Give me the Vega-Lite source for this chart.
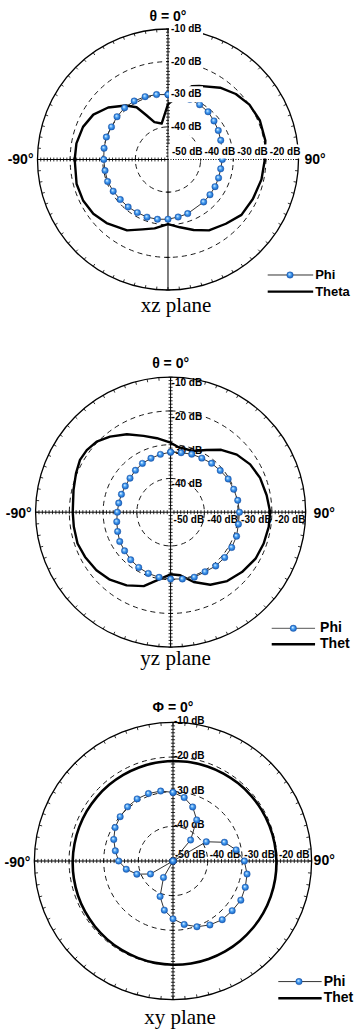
{
"$schema": "https://vega.github.io/schema/vega-lite/v6.json",
"padding": 0,
"spacing": 0,
"bounds": "flush",
"background": "white",
"config": {"view": {"stroke": null}, "axis": {"disable": true}, "font": "Liberation Sans"},
"resolve": {"scale": {"radius": "independent"}},
"datasets": {
"rings": [{"db": -40}, {"db": -30}, {"db": -20}],
"outer": [{"db": -10}],
"maj": [{"db": -40}, {"db": -30}, {"db": -20}, {"db": -10}],
"mt": [{"db":-49},{"db":-48},{"db":-47},{"db":-46},{"db":-45},{"db":-44},{"db":-43},{"db":-42},{"db":-41},{"db":-40},{"db":-39},{"db":-38},{"db":-37},{"db":-36},{"db":-35},{"db":-34},{"db":-33},{"db":-32},{"db":-31},{"db":-30},{"db":-29},{"db":-28},{"db":-27},{"db":-26},{"db":-25},{"db":-24},{"db":-23},{"db":-22},{"db":-21},{"db":-20},{"db":-19},{"db":-18},{"db":-17},{"db":-16},{"db":-15},{"db":-14},{"db":-13},{"db":-12},{"db":-11},{"db":-10}],
"ang": [{"a":0},{"a":5},{"a":10},{"a":15},{"a":20},{"a":25},{"a":30},{"a":35},{"a":40},{"a":45},{"a":50},{"a":55},{"a":60},{"a":65},{"a":70},{"a":75},{"a":80},{"a":85},{"a":90},{"a":95},{"a":100},{"a":105},{"a":110},{"a":115},{"a":120},{"a":125},{"a":130},{"a":135},{"a":140},{"a":145},{"a":150},{"a":155},{"a":160},{"a":165},{"a":170},{"a":175},{"a":180},{"a":185},{"a":190},{"a":195},{"a":200},{"a":205},{"a":210},{"a":215},{"a":220},{"a":225},{"a":230},{"a":235},{"a":240},{"a":245},{"a":250},{"a":255},{"a":260},{"a":265},{"a":270},{"a":275},{"a":280},{"a":285},{"a":290},{"a":295},{"a":300},{"a":305},{"a":310},{"a":315},{"a":320},{"a":325},{"a":330},{"a":335},{"a":340},{"a":345},{"a":350},{"a":355}],
"labv": [{"t": "-10 dB", "db": -10}, {"t": "-20 dB", "db": -20}, {"t": "-30 dB", "db": -30}, {"t": "-40 dB", "db": -40}],
"labh": [{"t": "-50 dB", "db": -50}, {"t": "-40 dB", "db": -40}, {"t": "-30 dB", "db": -30}, {"t": "-20 dB", "db": -20}],
"p1phi": [{"a":0,"db":-30.1},{"a":10,"db":-30.2},{"a":20,"db":-30.4},{"a":30,"db":-30.6},{"a":40,"db":-30.9},{"a":50,"db":-31.6},{"a":60,"db":-32.2},{"a":70,"db":-32.8},{"a":80,"db":-33.2},{"a":90,"db":-33.35},{"a":100,"db":-33.6},{"a":110,"db":-33.5},{"a":120,"db":-33.35},{"a":130,"db":-33.2},{"a":140,"db":-33.0},{"a":160,"db":-32.35},{"a":170,"db":-32.1},{"a":180,"db":-31.7},{"a":190,"db":-31.4},{"a":200,"db":-31.2},{"a":210,"db":-31.2},{"a":220,"db":-31.0},{"a":230,"db":-30.9},{"a":240,"db":-30.6},{"a":250,"db":-30.3},{"a":260,"db":-30.4},{"a":270,"db":-30.3},{"a":280,"db":-30.1},{"a":290,"db":-29.9},{"a":300,"db":-30.0},{"a":310,"db":-29.6},{"a":320,"db":-29.3},{"a":330,"db":-29.3},{"a":340,"db":-29.5},{"a":350,"db":-29.8},{"a":360,"db":-30.1}],
"p1theta": [{"a":0,"db":-33.0},{"a":18,"db":-26.4},{"a":23,"db":-25.5},{"a":36,"db":-22.8},{"a":46,"db":-21.1},{"a":56,"db":-19.9},{"a":67,"db":-19.4},{"a":79,"db":-19.6},{"a":91,"db":-20.4},{"a":102,"db":-20.7},{"a":115,"db":-21.3},{"a":127,"db":-21.8},{"a":138,"db":-23.5},{"a":150,"db":-24.9},{"a":160,"db":-27.0},{"a":170,"db":-28.9},{"a":180,"db":-30.2},{"a":191,"db":-28.5},{"a":200,"db":-27.2},{"a":210,"db":-24.9},{"a":224,"db":-22.9},{"a":234,"db":-21.7},{"a":244,"db":-21.1},{"a":255,"db":-21.0},{"a":270,"db":-21.4},{"a":280,"db":-21.5},{"a":291,"db":-22.1},{"a":301,"db":-23.3},{"a":311,"db":-25.7},{"a":322,"db":-29.0},{"a":329,"db":-31.3},{"a":334,"db":-34.9},{"a":340,"db":-37.8},{"a":350,"db":-38.8},{"a":360,"db":-33.0}],
"p2phi": [{"a":0,"db":-32.2},{"a":10,"db":-32.1},{"a":20,"db":-31.7},{"a":30,"db":-31.5},{"a":40,"db":-31.1},{"a":50,"db":-30.8},{"a":60,"db":-30.3},{"a":70,"db":-30.1},{"a":80,"db":-29.8},{"a":90,"db":-29.6},{"a":100,"db":-29.6},{"a":110,"db":-29.2},{"a":120,"db":-29.1},{"a":130,"db":-29.1},{"a":140,"db":-29.2},{"a":150,"db":-29.6},{"a":160,"db":-29.5},{"a":170,"db":-29.9},{"a":180,"db":-30.2},{"a":190,"db":-30.4},{"a":200,"db":-30.7},{"a":210,"db":-31.1},{"a":220,"db":-31.6},{"a":230,"db":-32.2},{"a":240,"db":-32.6},{"a":250,"db":-33.3},{"a":260,"db":-33.8},{"a":270,"db":-34.2},{"a":280,"db":-34.4},{"a":290,"db":-34.5},{"a":300,"db":-34.5},{"a":310,"db":-34.3},{"a":320,"db":-33.8},{"a":330,"db":-33.3},{"a":340,"db":-33.0},{"a":350,"db":-32.6},{"a":360,"db":-32.2}],
"p2theta": [{"a":0,"db":-29.4},{"a":7,"db":-30.6},{"a":20,"db":-30.7},{"a":30,"db":-28.7},{"a":39,"db":-26.2},{"a":49,"db":-24.0},{"a":59,"db":-22.5},{"a":69,"db":-21.6},{"a":80,"db":-21.1},{"a":90,"db":-20.5},{"a":98.5,"db":-20.6},{"a":108.6,"db":-20.9},{"a":118.7,"db":-21.3},{"a":130,"db":-22.4},{"a":140.6,"db":-23.6},{"a":151.3,"db":-25.5},{"a":161.7,"db":-28.2},{"a":171.3,"db":-31.1},{"a":180,"db":-31.6},{"a":191.4,"db":-29.4},{"a":200,"db":-26.7},{"a":211,"db":-24.7},{"a":222,"db":-23.1},{"a":232,"db":-22.1},{"a":242.4,"db":-21.4},{"a":251.4,"db":-20.9},{"a":261.4,"db":-21.0},{"a":270,"db":-21.0},{"a":282.8,"db":-20.5},{"a":292.3,"db":-19.7},{"a":300,"db":-19.0},{"a":306.5,"db":-19.1},{"a":313.7,"db":-19.7},{"a":321.3,"db":-21.3},{"a":330.7,"db":-23.5},{"a":340.5,"db":-26.0},{"a":349.5,"db":-27.7},{"a":360,"db":-29.4}],
"p3phi": [{"a":0,"db":-30.2},{"a":10,"db":-31.4},{"a":20,"db":-33.4},{"a":30,"db":-36.3},{"a":40,"db":-42.1},{"a":50,"db":-50},{"a":60,"db":-38.9},{"a":70,"db":-34.2},{"a":80,"db":-31.5},{"a":90,"db":-29.4},{"a":100,"db":-28.3},{"a":110,"db":-27.8},{"a":120,"db":-27.4},{"a":130,"db":-27.7},{"a":140,"db":-27.9},{"a":150,"db":-28.7},{"a":160,"db":-29.8},{"a":170,"db":-31.4},{"a":180,"db":-33.3},{"a":190,"db":-35.6},{"a":200,"db":-39.1},{"a":210,"db":-44.5},{"a":220,"db":-50},{"a":230,"db":-50},{"a":240,"db":-42.5},{"a":250,"db":-38.9},{"a":260,"db":-36.3},{"a":270,"db":-34.3},{"a":280,"db":-33.1},{"a":290,"db":-31.8},{"a":300,"db":-30.7},{"a":310,"db":-30.1},{"a":320,"db":-29.6},{"a":330,"db":-29.3},{"a":340,"db":-29.3},{"a":350,"db":-29.5},{"a":360,"db":-30.2}],
"p3theta": [{"a":0,"db":-21.15},{"a":10,"db":-21.06},{"a":20,"db":-20.96},{"a":30,"db":-20.85},{"a":40,"db":-20.73},{"a":50,"db":-20.61},{"a":60,"db":-20.49},{"a":70,"db":-20.37},{"a":80,"db":-20.25},{"a":90,"db":-20.15},{"a":100,"db":-20.06},{"a":110,"db":-19.99},{"a":120,"db":-19.93},{"a":130,"db":-19.9},{"a":140,"db":-19.89},{"a":150,"db":-19.9},{"a":160,"db":-19.93},{"a":170,"db":-19.98},{"a":180,"db":-20.05},{"a":190,"db":-20.14},{"a":200,"db":-20.24},{"a":210,"db":-20.35},{"a":220,"db":-20.47},{"a":230,"db":-20.59},{"a":240,"db":-20.71},{"a":250,"db":-20.83},{"a":260,"db":-20.95},{"a":270,"db":-21.05},{"a":280,"db":-21.14},{"a":290,"db":-21.21},{"a":300,"db":-21.26},{"a":310,"db":-21.3},{"a":320,"db":-21.31},{"a":330,"db":-21.3},{"a":340,"db":-21.27},{"a":350,"db":-21.22},{"a":360,"db":-21.15}]
},
"vconcat": [
{
"width": 356, "height": 343,
"layer": [
{"data": {"name": "rings"}, "mark": {"type": "arc", "theta": 0, "theta2": 6.2832, "filled": false, "stroke": "black", "strokeWidth": 0.9, "strokeDash": [5, 4]},
 "encoding": {"x": {"datum": 0, "type": "quantitative", "scale": {"domain": [-51.494, 57.625]}}, "y": {"datum": 0, "type": "quantitative", "scale": {"domain": [-56.245, 48.889]}}, "radius": {"field": "db", "type": "quantitative", "scale": {"type": "linear", "domain": [-50, -10], "range": [0, 130.5]}}, "radius2": {"datum": -50}}},
{"data": {"name": "outer"}, "mark": {"type": "arc", "theta": 0, "theta2": 6.2832, "filled": false, "stroke": "black", "strokeWidth": 1.3},
 "encoding": {"x": {"datum": 0, "type": "quantitative", "scale": {"domain": [-51.494, 57.625]}}, "y": {"datum": 0, "type": "quantitative", "scale": {"domain": [-56.245, 48.889]}}, "radius": {"field": "db", "type": "quantitative", "scale": {"type": "linear", "domain": [-50, -10], "range": [0, 130.5]}}, "radius2": {"datum": -50}}},
{"data": {"name": "ang"}, "transform": [{"calculate": "40*sin(datum.a*PI/180)", "as": "x"}, {"calculate": "40*cos(datum.a*PI/180)", "as": "y"}, {"calculate": "39.1*sin(datum.a*PI/180)", "as": "x2"}, {"calculate": "39.1*cos(datum.a*PI/180)", "as": "y2"}],
 "mark": {"type": "rule", "color": "black", "strokeWidth": 0.8},
 "encoding": {"x": {"field": "x", "type": "quantitative", "scale": {"domain": [-51.494, 57.625]}}, "y": {"field": "y", "type": "quantitative", "scale": {"domain": [-56.245, 48.889]}}, "x2": {"field": "x2"}, "y2": {"field": "y2"}}},
{"data": {"name": "outer"}, "mark": {"type": "rule", "color": "black", "strokeWidth": 1},
 "encoding": {"x": {"datum": 0, "type": "quantitative", "scale": {"domain": [-51.494, 57.625]}}, "y": {"datum": -40, "type": "quantitative", "scale": {"domain": [-56.245, 48.889]}}, "y2": {"datum": 40}}},
{"data": {"name": "outer"}, "mark": {"type": "rule", "color": "black", "strokeWidth": 1},
 "encoding": {"x": {"datum": -40, "type": "quantitative", "scale": {"domain": [-51.494, 57.625]}}, "x2": {"datum": 0}, "y": {"datum": 0, "type": "quantitative", "scale": {"domain": [-56.245, 48.889]}}}},
{"data": {"name": "outer"}, "mark": {"type": "rule", "color": "black", "strokeWidth": 1, "strokeDash": [1, 1.5]},
 "encoding": {"x": {"datum": 0, "type": "quantitative", "scale": {"domain": [-51.494, 57.625]}}, "x2": {"datum": 40}, "y": {"datum": 0, "type": "quantitative", "scale": {"domain": [-56.245, 48.889]}}}},
{"data": {"name": "mt"}, "transform": [{"calculate": "datum.db+50", "as": "u"}], "mark": {"type": "rule", "color": "black", "strokeWidth": 0.8},
 "encoding": {"x": {"datum": -0.6, "type": "quantitative", "scale": {"domain": [-51.494, 57.625]}}, "x2": {"datum": 0.6}, "y": {"field": "u", "type": "quantitative", "scale": {"domain": [-56.245, 48.889]}}}},
{"data": {"name": "mt"}, "transform": [{"calculate": "-(datum.db+50)", "as": "u"}], "mark": {"type": "rule", "color": "black", "strokeWidth": 0.8},
 "encoding": {"y": {"datum": -0.6, "type": "quantitative", "scale": {"domain": [-56.245, 48.889]}}, "y2": {"datum": 0.6}, "x": {"field": "u", "type": "quantitative", "scale": {"domain": [-51.494, 57.625]}}}},
{"data": {"name": "maj"}, "transform": [{"calculate": "-(datum.db+50)", "as": "u"}], "mark": {"type": "rule", "color": "black", "strokeWidth": 0.8},
 "encoding": {"x": {"datum": -0.7, "type": "quantitative", "scale": {"domain": [-51.494, 57.625]}}, "x2": {"datum": 0.7}, "y": {"field": "u", "type": "quantitative", "scale": {"domain": [-56.245, 48.889]}}}},
{"data": {"name": "maj"}, "transform": [{"calculate": "datum.db+50", "as": "u"}], "mark": {"type": "rule", "color": "black", "strokeWidth": 0.8},
 "encoding": {"y": {"datum": -0.7, "type": "quantitative", "scale": {"domain": [-56.245, 48.889]}}, "y2": {"datum": 0.7}, "x": {"field": "u", "type": "quantitative", "scale": {"domain": [-51.494, 57.625]}}}},
{"data": {"name": "p1theta"}, "transform": [{"calculate": "(datum.db+50)*sin(datum.a*PI/180)", "as": "x"}, {"calculate": "(datum.db+50)*cos(datum.a*PI/180)", "as": "y"}],
 "mark": {"type": "line", "color": "black", "strokeWidth": 2.4, "strokeJoin": "round"},
 "encoding": {"x": {"field": "x", "type": "quantitative", "scale": {"domain": [-51.494, 57.625]}}, "y": {"field": "y", "type": "quantitative", "scale": {"domain": [-56.245, 48.889]}}, "order": {"field": "a", "type": "quantitative"}}},
{"data": {"name": "p1phi"}, "transform": [{"calculate": "(datum.db+50)*sin(datum.a*PI/180)", "as": "x"}, {"calculate": "(datum.db+50)*cos(datum.a*PI/180)", "as": "y"}],
 "mark": {"type": "line", "color": "#333333", "strokeWidth": 1},
 "encoding": {"x": {"field": "x", "type": "quantitative", "scale": {"domain": [-51.494, 57.625]}}, "y": {"field": "y", "type": "quantitative", "scale": {"domain": [-56.245, 48.889]}}, "order": {"field": "a", "type": "quantitative"}}},
{"data": {"name": "p1phi"}, "transform": [{"calculate": "(datum.db+50)*sin(datum.a*PI/180)", "as": "x"}, {"calculate": "(datum.db+50)*cos(datum.a*PI/180)", "as": "y"}],
 "mark": {"type": "point", "filled": true, "size": 42, "opacity": 1, "stroke": "#1c4f9c", "strokeWidth": 0.4, "fill": {"gradient": "radial", "x1": 0.38, "y1": 0.33, "r1": 0, "x2": 0.5, "y2": 0.5, "r2": 0.5, "stops": [{"offset": 0, "color": "#ffffff"}, {"offset": 0.2, "color": "#aad8ff"}, {"offset": 0.5, "color": "#449cf0"}, {"offset": 1, "color": "#1560c0"}]}},
 "encoding": {"x": {"field": "x", "type": "quantitative", "scale": {"domain": [-51.494, 57.625]}}, "y": {"field": "y", "type": "quantitative", "scale": {"domain": [-56.245, 48.889]}}}},
{"data": {"name": "labv"}, "transform": [{"calculate": "datum.db+50", "as": "u"}], "mark": {"type": "point", "shape": "M0.1,-0.8H3.5V0.8H0.1Z", "size": 400, "filled": true, "color": "white", "opacity": 1, "strokeWidth": 0},
 "encoding": {"x": {"datum": 0, "type": "quantitative", "scale": {"domain": [-51.494, 57.625]}}, "y": {"field": "u", "type": "quantitative", "scale": {"domain": [-56.245, 48.889]}}}},
{"data": {"name": "labh"}, "transform": [{"calculate": "datum.db+50", "as": "u"}], "mark": {"type": "point", "shape": "M0.05,-1.5H3.5V-0.1H0.05Z", "size": 400, "filled": true, "color": "white", "opacity": 1, "strokeWidth": 0},
 "encoding": {"x": {"field": "u", "type": "quantitative", "scale": {"domain": [-51.494, 57.625]}}, "y": {"datum": 0, "type": "quantitative", "scale": {"domain": [-56.245, 48.889]}}}},
{"data": {"name": "labv"}, "transform": [{"calculate": "datum.db+50", "as": "u"}], "mark": {"type": "text", "align": "left", "baseline": "middle", "dx": 3, "fontSize": 10, "fontWeight": "bold", "color": "black"},
 "encoding": {"x": {"datum": 0, "type": "quantitative", "scale": {"domain": [-51.494, 57.625]}}, "y": {"field": "u", "type": "quantitative", "scale": {"domain": [-56.245, 48.889]}}, "text": {"field": "t"}}},
{"data": {"name": "labh"}, "transform": [{"calculate": "datum.db+50", "as": "u"}], "mark": {"type": "text", "align": "left", "baseline": "middle", "dx": 4, "dy": -8, "fontSize": 10, "fontWeight": "bold", "color": "black"},
 "encoding": {"x": {"field": "u", "type": "quantitative", "scale": {"domain": [-51.494, 57.625]}}, "y": {"datum": 0, "type": "quantitative", "scale": {"domain": [-56.245, 48.889]}}, "text": {"field": "t"}}},
{"data": {"name": "outer"}, "mark": {"type": "text", "text": "θ = 0°", "align": "center", "baseline": "middle", "dy": -12, "fontSize": 14, "fontWeight": "bold", "color": "black"},
 "encoding": {"x": {"datum": 0, "type": "quantitative", "scale": {"domain": [-51.494, 57.625]}}, "y": {"datum": 40, "type": "quantitative", "scale": {"domain": [-56.245, 48.889]}}}},
{"data": {"name": "outer"}, "mark": {"type": "text", "text": "-90°", "align": "right", "baseline": "middle", "dx": -4, "fontSize": 14, "fontWeight": "bold", "color": "black"},
 "encoding": {"x": {"datum": -40, "type": "quantitative", "scale": {"domain": [-51.494, 57.625]}}, "y": {"datum": 0, "type": "quantitative", "scale": {"domain": [-56.245, 48.889]}}}},
{"data": {"name": "outer"}, "mark": {"type": "text", "text": "90°", "align": "left", "baseline": "middle", "dx": 6, "fontSize": 14, "fontWeight": "bold", "color": "black"},
 "encoding": {"x": {"datum": 40, "type": "quantitative", "scale": {"domain": [-51.494, 57.625]}}, "y": {"datum": 0, "type": "quantitative", "scale": {"domain": [-56.245, 48.889]}}}},
{"data": {"name": "outer"}, "mark": {"type": "text", "text": "xz plane", "align": "center", "baseline": "middle", "dx": 8, "dy": 16, "font": "Liberation Serif", "fontSize": 21, "color": "black"},
 "encoding": {"x": {"datum": 0, "type": "quantitative", "scale": {"domain": [-51.494, 57.625]}}, "y": {"datum": -40, "type": "quantitative", "scale": {"domain": [-56.245, 48.889]}}}},
{"data": {"name": "outer"}, "mark": {"type": "rule", "color": "#333333", "strokeWidth": 1},
 "encoding": {"x": {"datum": 30.56, "type": "quantitative", "scale": {"domain": [-51.494, 57.625]}}, "x2": {"datum": 44.5}, "y": {"datum": -35.4, "type": "quantitative", "scale": {"domain": [-56.245, 48.889]}}}},
{"data": {"name": "outer"}, "mark": {"type": "point", "filled": true, "size": 42, "opacity": 1, "stroke": "#1c4f9c", "strokeWidth": 0.4, "fill": {"gradient": "radial", "x1": 0.38, "y1": 0.33, "r1": 0, "x2": 0.5, "y2": 0.5, "r2": 0.5, "stops": [{"offset": 0, "color": "#ffffff"}, {"offset": 0.2, "color": "#aad8ff"}, {"offset": 0.5, "color": "#449cf0"}, {"offset": 1, "color": "#1560c0"}]}},
 "encoding": {"x": {"datum": 37.4, "type": "quantitative", "scale": {"domain": [-51.494, 57.625]}}, "y": {"datum": -35.4, "type": "quantitative", "scale": {"domain": [-56.245, 48.889]}}}},
{"data": {"name": "outer"}, "mark": {"type": "text", "text": "Phi", "align": "left", "baseline": "middle", "dx": 2, "fontSize": 13, "fontWeight": "bold", "color": "black"},
 "encoding": {"x": {"datum": 44.5, "type": "quantitative", "scale": {"domain": [-51.494, 57.625]}}, "y": {"datum": -35.4, "type": "quantitative", "scale": {"domain": [-56.245, 48.889]}}}},
{"data": {"name": "outer"}, "mark": {"type": "rule", "color": "black", "strokeWidth": 2.4},
 "encoding": {"x": {"datum": 30.56, "type": "quantitative", "scale": {"domain": [-51.494, 57.625]}}, "x2": {"datum": 44.5}, "y": {"datum": -40.5, "type": "quantitative", "scale": {"domain": [-56.245, 48.889]}}}},
{"data": {"name": "outer"}, "mark": {"type": "text", "text": "Theta", "align": "left", "baseline": "middle", "dx": 2, "fontSize": 13, "fontWeight": "bold", "color": "black"},
 "encoding": {"x": {"datum": 44.5, "type": "quantitative", "scale": {"domain": [-51.494, 57.625]}}, "y": {"datum": -40.5, "type": "quantitative", "scale": {"domain": [-56.245, 48.889]}}}}
]
},
{
"width": 356, "height": 343,
"layer": [
{"data": {"name": "rings"}, "mark": {"type": "arc", "theta": 0, "theta2": 6.2832, "filled": false, "stroke": "black", "strokeWidth": 0.9, "strokeDash": [5, 4]},
 "encoding": {"x": {"datum": 0, "type": "quantitative", "scale": {"domain": [-50.548, 54.933]}}, "y": {"datum": 0, "type": "quantitative", "scale": {"domain": [-51.496, 50.133]}}, "radius": {"field": "db", "type": "quantitative", "scale": {"type": "linear", "domain": [-50, -10], "range": [0, 135]}}, "radius2": {"datum": -50}}},
{"data": {"name": "outer"}, "mark": {"type": "arc", "theta": 0, "theta2": 6.2832, "filled": false, "stroke": "black", "strokeWidth": 1.3},
 "encoding": {"x": {"datum": 0, "type": "quantitative", "scale": {"domain": [-50.548, 54.933]}}, "y": {"datum": 0, "type": "quantitative", "scale": {"domain": [-51.496, 50.133]}}, "radius": {"field": "db", "type": "quantitative", "scale": {"type": "linear", "domain": [-50, -10], "range": [0, 135]}}, "radius2": {"datum": -50}}},
{"data": {"name": "ang"}, "transform": [{"calculate": "40*sin(datum.a*PI/180)", "as": "x"}, {"calculate": "40*cos(datum.a*PI/180)", "as": "y"}, {"calculate": "39.1*sin(datum.a*PI/180)", "as": "x2"}, {"calculate": "39.1*cos(datum.a*PI/180)", "as": "y2"}],
 "mark": {"type": "rule", "color": "black", "strokeWidth": 0.8},
 "encoding": {"x": {"field": "x", "type": "quantitative", "scale": {"domain": [-50.548, 54.933]}}, "y": {"field": "y", "type": "quantitative", "scale": {"domain": [-51.496, 50.133]}}, "x2": {"field": "x2"}, "y2": {"field": "y2"}}},
{"data": {"name": "outer"}, "mark": {"type": "rule", "color": "black", "strokeWidth": 1},
 "encoding": {"x": {"datum": 0, "type": "quantitative", "scale": {"domain": [-50.548, 54.933]}}, "y": {"datum": -40, "type": "quantitative", "scale": {"domain": [-51.496, 50.133]}}, "y2": {"datum": 40}}},
{"data": {"name": "outer"}, "mark": {"type": "rule", "color": "black", "strokeWidth": 1},
 "encoding": {"x": {"datum": -40, "type": "quantitative", "scale": {"domain": [-50.548, 54.933]}}, "x2": {"datum": 40}, "y": {"datum": 0, "type": "quantitative", "scale": {"domain": [-51.496, 50.133]}}}},
{"data": {"name": "mt"}, "transform": [{"calculate": "datum.db+50", "as": "u"}], "mark": {"type": "rule", "color": "black", "strokeWidth": 0.8},
 "encoding": {"x": {"datum": -0.6, "type": "quantitative", "scale": {"domain": [-50.548, 54.933]}}, "x2": {"datum": 0.6}, "y": {"field": "u", "type": "quantitative", "scale": {"domain": [-51.496, 50.133]}}}},
{"data": {"name": "mt"}, "transform": [{"calculate": "-(datum.db+50)", "as": "u"}], "mark": {"type": "rule", "color": "black", "strokeWidth": 0.8},
 "encoding": {"x": {"datum": -0.6, "type": "quantitative", "scale": {"domain": [-50.548, 54.933]}}, "x2": {"datum": 0.6}, "y": {"field": "u", "type": "quantitative", "scale": {"domain": [-51.496, 50.133]}}}},
{"data": {"name": "mt"}, "transform": [{"calculate": "datum.db+50", "as": "u"}], "mark": {"type": "rule", "color": "black", "strokeWidth": 0.8},
 "encoding": {"y": {"datum": -0.6, "type": "quantitative", "scale": {"domain": [-51.496, 50.133]}}, "y2": {"datum": 0.6}, "x": {"field": "u", "type": "quantitative", "scale": {"domain": [-50.548, 54.933]}}}},
{"data": {"name": "mt"}, "transform": [{"calculate": "-(datum.db+50)", "as": "u"}], "mark": {"type": "rule", "color": "black", "strokeWidth": 0.8},
 "encoding": {"y": {"datum": -0.6, "type": "quantitative", "scale": {"domain": [-51.496, 50.133]}}, "y2": {"datum": 0.6}, "x": {"field": "u", "type": "quantitative", "scale": {"domain": [-50.548, 54.933]}}}},
{"data": {"name": "labv"}, "transform": [{"calculate": "datum.db+50", "as": "u"}], "mark": {"type": "text", "align": "left", "baseline": "middle", "dx": 1, "dy": 6, "fontSize": 10, "fontWeight": "bold", "color": "black"},
 "encoding": {"x": {"datum": 0, "type": "quantitative", "scale": {"domain": [-50.548, 54.933]}}, "y": {"field": "u", "type": "quantitative", "scale": {"domain": [-51.496, 50.133]}}, "text": {"field": "t"}}},
{"data": {"name": "labh"}, "transform": [{"calculate": "datum.db+50", "as": "u"}], "mark": {"type": "text", "align": "left", "baseline": "middle", "dx": 3, "dy": 8, "fontSize": 10, "fontWeight": "bold", "color": "black"},
 "encoding": {"x": {"field": "u", "type": "quantitative", "scale": {"domain": [-50.548, 54.933]}}, "y": {"datum": 0, "type": "quantitative", "scale": {"domain": [-51.496, 50.133]}}, "text": {"field": "t"}}},
{"data": {"name": "p2theta"}, "transform": [{"calculate": "(datum.db+50)*sin(datum.a*PI/180)", "as": "x"}, {"calculate": "(datum.db+50)*cos(datum.a*PI/180)", "as": "y"}],
 "mark": {"type": "line", "color": "black", "strokeWidth": 2.4, "strokeJoin": "round"},
 "encoding": {"x": {"field": "x", "type": "quantitative", "scale": {"domain": [-50.548, 54.933]}}, "y": {"field": "y", "type": "quantitative", "scale": {"domain": [-51.496, 50.133]}}, "order": {"field": "a", "type": "quantitative"}}},
{"data": {"name": "p2phi"}, "transform": [{"calculate": "(datum.db+50)*sin(datum.a*PI/180)", "as": "x"}, {"calculate": "(datum.db+50)*cos(datum.a*PI/180)", "as": "y"}],
 "mark": {"type": "line", "color": "#333333", "strokeWidth": 1},
 "encoding": {"x": {"field": "x", "type": "quantitative", "scale": {"domain": [-50.548, 54.933]}}, "y": {"field": "y", "type": "quantitative", "scale": {"domain": [-51.496, 50.133]}}, "order": {"field": "a", "type": "quantitative"}}},
{"data": {"name": "p2phi"}, "transform": [{"calculate": "(datum.db+50)*sin(datum.a*PI/180)", "as": "x"}, {"calculate": "(datum.db+50)*cos(datum.a*PI/180)", "as": "y"}],
 "mark": {"type": "point", "filled": true, "size": 42, "opacity": 1, "stroke": "#1c4f9c", "strokeWidth": 0.4, "fill": {"gradient": "radial", "x1": 0.38, "y1": 0.33, "r1": 0, "x2": 0.5, "y2": 0.5, "r2": 0.5, "stops": [{"offset": 0, "color": "#ffffff"}, {"offset": 0.2, "color": "#aad8ff"}, {"offset": 0.5, "color": "#449cf0"}, {"offset": 1, "color": "#1560c0"}]}},
 "encoding": {"x": {"field": "x", "type": "quantitative", "scale": {"domain": [-50.548, 54.933]}}, "y": {"field": "y", "type": "quantitative", "scale": {"domain": [-51.496, 50.133]}}}},
{"data": {"name": "outer"}, "mark": {"type": "text", "text": "θ = 0°", "align": "center", "baseline": "middle", "dy": -13, "fontSize": 14, "fontWeight": "bold", "color": "black"},
 "encoding": {"x": {"datum": 0, "type": "quantitative", "scale": {"domain": [-50.548, 54.933]}}, "y": {"datum": 40, "type": "quantitative", "scale": {"domain": [-51.496, 50.133]}}}},
{"data": {"name": "outer"}, "mark": {"type": "text", "text": "-90°", "align": "right", "baseline": "middle", "dx": -4, "dy": 2, "fontSize": 14, "fontWeight": "bold", "color": "black"},
 "encoding": {"x": {"datum": -40, "type": "quantitative", "scale": {"domain": [-50.548, 54.933]}}, "y": {"datum": 0, "type": "quantitative", "scale": {"domain": [-51.496, 50.133]}}}},
{"data": {"name": "outer"}, "mark": {"type": "text", "text": "90°", "align": "left", "baseline": "middle", "dx": 8, "dy": 2, "fontSize": 14, "fontWeight": "bold", "color": "black"},
 "encoding": {"x": {"datum": 40, "type": "quantitative", "scale": {"domain": [-50.548, 54.933]}}, "y": {"datum": 0, "type": "quantitative", "scale": {"domain": [-51.496, 50.133]}}}},
{"data": {"name": "outer"}, "mark": {"type": "text", "text": "yz plane", "align": "center", "baseline": "middle", "dx": 5, "dy": 12, "font": "Liberation Serif", "fontSize": 21, "color": "black"},
 "encoding": {"x": {"datum": 0, "type": "quantitative", "scale": {"domain": [-50.548, 54.933]}}, "y": {"datum": -40, "type": "quantitative", "scale": {"domain": [-51.496, 50.133]}}}},
{"data": {"name": "outer"}, "mark": {"type": "rule", "color": "#555555", "strokeWidth": 1},
 "encoding": {"x": {"datum": 29.96, "type": "quantitative", "scale": {"domain": [-50.548, 54.933]}}, "x2": {"datum": 42.8}, "y": {"datum": -34.4, "type": "quantitative", "scale": {"domain": [-51.496, 50.133]}}}},
{"data": {"name": "outer"}, "mark": {"type": "point", "filled": true, "size": 42, "opacity": 1, "stroke": "#1c4f9c", "strokeWidth": 0.4, "fill": {"gradient": "radial", "x1": 0.38, "y1": 0.33, "r1": 0, "x2": 0.5, "y2": 0.5, "r2": 0.5, "stops": [{"offset": 0, "color": "#ffffff"}, {"offset": 0.2, "color": "#aad8ff"}, {"offset": 0.5, "color": "#449cf0"}, {"offset": 1, "color": "#1560c0"}]}},
 "encoding": {"x": {"datum": 36.36, "type": "quantitative", "scale": {"domain": [-50.548, 54.933]}}, "y": {"datum": -34.4, "type": "quantitative", "scale": {"domain": [-51.496, 50.133]}}}},
{"data": {"name": "outer"}, "mark": {"type": "text", "text": "Phi", "align": "left", "baseline": "middle", "dx": 5, "fontSize": 14, "fontWeight": "bold", "color": "black"},
 "encoding": {"x": {"datum": 42.8, "type": "quantitative", "scale": {"domain": [-50.548, 54.933]}}, "y": {"datum": -34.4, "type": "quantitative", "scale": {"domain": [-51.496, 50.133]}}}},
{"data": {"name": "outer"}, "mark": {"type": "rule", "color": "black", "strokeWidth": 2.4},
 "encoding": {"x": {"datum": 29.96, "type": "quantitative", "scale": {"domain": [-50.548, 54.933]}}, "x2": {"datum": 42.8}, "y": {"datum": -39.14, "type": "quantitative", "scale": {"domain": [-51.496, 50.133]}}}},
{"data": {"name": "outer"}, "mark": {"type": "text", "text": "Theta", "align": "left", "baseline": "middle", "dx": 5, "fontSize": 14, "fontWeight": "bold", "color": "black", "limit": 35, "ellipsis": "\u200b"},
 "encoding": {"x": {"datum": 42.8, "type": "quantitative", "scale": {"domain": [-50.548, 54.933]}}, "y": {"datum": -39.14, "type": "quantitative", "scale": {"domain": [-51.496, 50.133]}}}}
]
},
{
"width": 356, "height": 344,
"layer": [
{"data": {"name": "rings"}, "mark": {"type": "arc", "theta": 0, "theta2": 6.2832, "filled": false, "stroke": "black", "strokeWidth": 0.9, "strokeDash": [5, 4]},
 "encoding": {"x": {"datum": 0, "type": "quantitative", "scale": {"domain": [-49.928, 52.814]}}, "y": {"datum": 0, "type": "quantitative", "scale": {"domain": [-48.773, 50.505]}}, "radius": {"field": "db", "type": "quantitative", "scale": {"type": "linear", "domain": [-50, -10], "range": [0, 138.6]}}, "radius2": {"datum": -50}}},
{"data": {"name": "outer"}, "mark": {"type": "arc", "theta": 0, "theta2": 6.2832, "filled": false, "stroke": "black", "strokeWidth": 1.3},
 "encoding": {"x": {"datum": 0, "type": "quantitative", "scale": {"domain": [-49.928, 52.814]}}, "y": {"datum": 0, "type": "quantitative", "scale": {"domain": [-48.773, 50.505]}}, "radius": {"field": "db", "type": "quantitative", "scale": {"type": "linear", "domain": [-50, -10], "range": [0, 138.6]}}, "radius2": {"datum": -50}}},
{"data": {"name": "ang"}, "transform": [{"calculate": "40*sin(datum.a*PI/180)", "as": "x"}, {"calculate": "40*cos(datum.a*PI/180)", "as": "y"}, {"calculate": "39.1*sin(datum.a*PI/180)", "as": "x2"}, {"calculate": "39.1*cos(datum.a*PI/180)", "as": "y2"}],
 "mark": {"type": "rule", "color": "black", "strokeWidth": 0.8},
 "encoding": {"x": {"field": "x", "type": "quantitative", "scale": {"domain": [-49.928, 52.814]}}, "y": {"field": "y", "type": "quantitative", "scale": {"domain": [-48.773, 50.505]}}, "x2": {"field": "x2"}, "y2": {"field": "y2"}}},
{"data": {"name": "outer"}, "mark": {"type": "rule", "color": "black", "strokeWidth": 1},
 "encoding": {"x": {"datum": 0, "type": "quantitative", "scale": {"domain": [-49.928, 52.814]}}, "y": {"datum": -40, "type": "quantitative", "scale": {"domain": [-48.773, 50.505]}}, "y2": {"datum": 40}}},
{"data": {"name": "outer"}, "mark": {"type": "rule", "color": "black", "strokeWidth": 1},
 "encoding": {"x": {"datum": -40, "type": "quantitative", "scale": {"domain": [-49.928, 52.814]}}, "x2": {"datum": 40}, "y": {"datum": 0, "type": "quantitative", "scale": {"domain": [-48.773, 50.505]}}}},
{"data": {"name": "mt"}, "transform": [{"calculate": "datum.db+50", "as": "u"}], "mark": {"type": "rule", "color": "black", "strokeWidth": 0.8},
 "encoding": {"x": {"datum": -0.6, "type": "quantitative", "scale": {"domain": [-49.928, 52.814]}}, "x2": {"datum": 0.6}, "y": {"field": "u", "type": "quantitative", "scale": {"domain": [-48.773, 50.505]}}}},
{"data": {"name": "mt"}, "transform": [{"calculate": "-(datum.db+50)", "as": "u"}], "mark": {"type": "rule", "color": "black", "strokeWidth": 0.8},
 "encoding": {"x": {"datum": -0.6, "type": "quantitative", "scale": {"domain": [-49.928, 52.814]}}, "x2": {"datum": 0.6}, "y": {"field": "u", "type": "quantitative", "scale": {"domain": [-48.773, 50.505]}}}},
{"data": {"name": "mt"}, "transform": [{"calculate": "datum.db+50", "as": "u"}], "mark": {"type": "rule", "color": "black", "strokeWidth": 0.8},
 "encoding": {"y": {"datum": -0.6, "type": "quantitative", "scale": {"domain": [-48.773, 50.505]}}, "y2": {"datum": 0.6}, "x": {"field": "u", "type": "quantitative", "scale": {"domain": [-49.928, 52.814]}}}},
{"data": {"name": "mt"}, "transform": [{"calculate": "-(datum.db+50)", "as": "u"}], "mark": {"type": "rule", "color": "black", "strokeWidth": 0.8},
 "encoding": {"y": {"datum": -0.6, "type": "quantitative", "scale": {"domain": [-48.773, 50.505]}}, "y2": {"datum": 0.6}, "x": {"field": "u", "type": "quantitative", "scale": {"domain": [-49.928, 52.814]}}}},
{"data": {"name": "labv"}, "transform": [{"calculate": "datum.db+50", "as": "u"}], "mark": {"type": "text", "align": "left", "baseline": "middle", "dx": 1, "dy": -1, "fontSize": 10, "fontWeight": "bold", "color": "black"},
 "encoding": {"x": {"datum": 0, "type": "quantitative", "scale": {"domain": [-49.928, 52.814]}}, "y": {"field": "u", "type": "quantitative", "scale": {"domain": [-48.773, 50.505]}}, "text": {"field": "t"}}},
{"data": {"name": "labh"}, "transform": [{"calculate": "datum.db+50", "as": "u"}], "mark": {"type": "text", "align": "left", "baseline": "middle", "dx": 2, "dy": -6, "fontSize": 10, "fontWeight": "bold", "color": "black"},
 "encoding": {"x": {"field": "u", "type": "quantitative", "scale": {"domain": [-49.928, 52.814]}}, "y": {"datum": 0, "type": "quantitative", "scale": {"domain": [-48.773, 50.505]}}, "text": {"field": "t"}}},
{"data": {"name": "p3theta"}, "transform": [{"calculate": "(datum.db+50)*sin(datum.a*PI/180)", "as": "x"}, {"calculate": "(datum.db+50)*cos(datum.a*PI/180)", "as": "y"}],
 "mark": {"type": "line", "color": "black", "strokeWidth": 2.6, "interpolate": "catmull-rom"},
 "encoding": {"x": {"field": "x", "type": "quantitative", "scale": {"domain": [-49.928, 52.814]}}, "y": {"field": "y", "type": "quantitative", "scale": {"domain": [-48.773, 50.505]}}, "order": {"field": "a", "type": "quantitative"}}},
{"data": {"name": "p3phi"}, "transform": [{"calculate": "(datum.db+50)*sin(datum.a*PI/180)", "as": "x"}, {"calculate": "(datum.db+50)*cos(datum.a*PI/180)", "as": "y"}],
 "mark": {"type": "line", "color": "#333333", "strokeWidth": 1},
 "encoding": {"x": {"field": "x", "type": "quantitative", "scale": {"domain": [-49.928, 52.814]}}, "y": {"field": "y", "type": "quantitative", "scale": {"domain": [-48.773, 50.505]}}, "order": {"field": "a", "type": "quantitative"}}},
{"data": {"name": "p3phi"}, "transform": [{"calculate": "(datum.db+50)*sin(datum.a*PI/180)", "as": "x"}, {"calculate": "(datum.db+50)*cos(datum.a*PI/180)", "as": "y"}],
 "mark": {"type": "point", "filled": true, "size": 42, "opacity": 1, "stroke": "#1c4f9c", "strokeWidth": 0.4, "fill": {"gradient": "radial", "x1": 0.38, "y1": 0.33, "r1": 0, "x2": 0.5, "y2": 0.5, "r2": 0.5, "stops": [{"offset": 0, "color": "#ffffff"}, {"offset": 0.2, "color": "#aad8ff"}, {"offset": 0.5, "color": "#449cf0"}, {"offset": 1, "color": "#1560c0"}]}},
 "encoding": {"x": {"field": "x", "type": "quantitative", "scale": {"domain": [-49.928, 52.814]}}, "y": {"field": "y", "type": "quantitative", "scale": {"domain": [-48.773, 50.505]}}}},
{"data": {"name": "outer"}, "mark": {"type": "text", "text": "Φ = 0°", "align": "center", "baseline": "middle", "dy": -14, "fontSize": 14, "fontWeight": "bold", "color": "black"},
 "encoding": {"x": {"datum": 0, "type": "quantitative", "scale": {"domain": [-49.928, 52.814]}}, "y": {"datum": 40, "type": "quantitative", "scale": {"domain": [-48.773, 50.505]}}}},
{"data": {"name": "outer"}, "mark": {"type": "text", "text": "-90°", "align": "right", "baseline": "middle", "dx": -4, "dy": 2, "fontSize": 14, "fontWeight": "bold", "color": "black"},
 "encoding": {"x": {"datum": -40, "type": "quantitative", "scale": {"domain": [-49.928, 52.814]}}, "y": {"datum": 0, "type": "quantitative", "scale": {"domain": [-48.773, 50.505]}}}},
{"data": {"name": "outer"}, "mark": {"type": "text", "text": "90°", "align": "left", "baseline": "middle", "dx": 2, "fontSize": 14, "fontWeight": "bold", "color": "black"},
 "encoding": {"x": {"datum": 40, "type": "quantitative", "scale": {"domain": [-49.928, 52.814]}}, "y": {"datum": 0, "type": "quantitative", "scale": {"domain": [-48.773, 50.505]}}}},
{"data": {"name": "outer"}, "mark": {"type": "text", "text": "xy plane", "align": "center", "baseline": "middle", "dx": 7, "dy": 18, "font": "Liberation Serif", "fontSize": 21, "color": "black"},
 "encoding": {"x": {"datum": 0, "type": "quantitative", "scale": {"domain": [-49.928, 52.814]}}, "y": {"datum": -40, "type": "quantitative", "scale": {"domain": [-48.773, 50.505]}}}},
{"data": {"name": "outer"}, "mark": {"type": "rule", "color": "#333333", "strokeWidth": 1},
 "encoding": {"x": {"datum": 30.39, "type": "quantitative", "scale": {"domain": [-49.928, 52.814]}}, "x2": {"datum": 42.9}, "y": {"datum": -34.8, "type": "quantitative", "scale": {"domain": [-48.773, 50.505]}}}},
{"data": {"name": "outer"}, "mark": {"type": "point", "filled": true, "size": 42, "opacity": 1, "stroke": "#1c4f9c", "strokeWidth": 0.4, "fill": {"gradient": "radial", "x1": 0.38, "y1": 0.33, "r1": 0, "x2": 0.5, "y2": 0.5, "r2": 0.5, "stops": [{"offset": 0, "color": "#ffffff"}, {"offset": 0.2, "color": "#aad8ff"}, {"offset": 0.5, "color": "#449cf0"}, {"offset": 1, "color": "#1560c0"}]}},
 "encoding": {"x": {"datum": 36.36, "type": "quantitative", "scale": {"domain": [-49.928, 52.814]}}, "y": {"datum": -34.8, "type": "quantitative", "scale": {"domain": [-48.773, 50.505]}}}},
{"data": {"name": "outer"}, "mark": {"type": "text", "text": "Phi", "align": "left", "baseline": "middle", "dx": 2, "fontSize": 14, "fontWeight": "bold", "color": "black"},
 "encoding": {"x": {"datum": 42.9, "type": "quantitative", "scale": {"domain": [-49.928, 52.814]}}, "y": {"datum": -34.8, "type": "quantitative", "scale": {"domain": [-48.773, 50.505]}}}},
{"data": {"name": "outer"}, "mark": {"type": "rule", "color": "black", "strokeWidth": 2.6},
 "encoding": {"x": {"datum": 30.39, "type": "quantitative", "scale": {"domain": [-49.928, 52.814]}}, "x2": {"datum": 42.9}, "y": {"datum": -39.6, "type": "quantitative", "scale": {"domain": [-48.773, 50.505]}}}},
{"data": {"name": "outer"}, "mark": {"type": "text", "text": "Theta", "align": "left", "baseline": "middle", "dx": 2, "fontSize": 14, "fontWeight": "bold", "color": "black", "limit": 32, "ellipsis": "\u200b"},
 "encoding": {"x": {"datum": 42.9, "type": "quantitative", "scale": {"domain": [-49.928, 52.814]}}, "y": {"datum": -39.6, "type": "quantitative", "scale": {"domain": [-48.773, 50.505]}}}}
]
}
]
}
